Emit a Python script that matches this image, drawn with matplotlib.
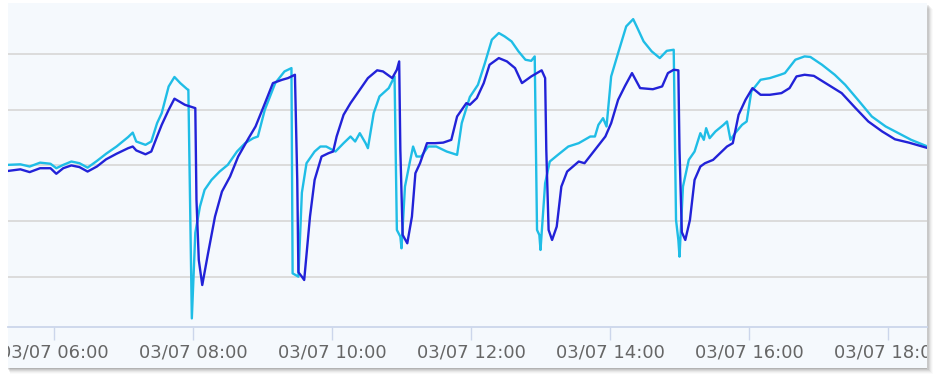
import matplotlib
matplotlib.use("Agg")
import matplotlib.pyplot as plt
from matplotlib.patches import Rectangle

# time in minutes after midnight (03/07), values in arbitrary units
cyan_t = [320, 331, 339, 348, 357, 362, 368, 375, 382, 389, 397, 405, 414, 424, 428, 431, 439, 444,
          449, 453, 459, 464, 469, 475, 476, 479, 482, 486, 490, 496, 503, 510, 518, 525, 532, 536,
          542, 551, 559, 565, 566, 571, 574, 578, 585, 590, 595, 603, 610, 616, 620, 624, 629, 631,
          636, 641, 649, 654, 656, 659, 660, 663, 667, 670, 673, 677, 683, 690, 699, 708, 712, 719,
          726, 732, 738, 744, 749, 755, 761, 767, 772, 775, 777, 779, 780, 784, 788, 795, 804, 813,
          823, 827, 830, 834, 837, 841, 847, 854, 860, 863, 869, 876, 883, 889, 895, 897, 899, 900,
          903, 908, 913, 918, 921, 923, 926, 931, 938, 941, 944, 948, 954, 958, 962, 970, 978, 987,
          991, 1000, 1008, 1013, 1023, 1034, 1043, 1054, 1066, 1078, 1089, 1100, 1113]
cyan_v = [30.1, 30.2, 29.8, 30.5, 30.3, 29.5, 30.1, 30.7, 30.4, 29.6, 30.8, 32.1, 33.4, 35.1, 35.9, 34.3, 33.7, 34.3,
          37.6, 39.4, 44.2, 45.9, 44.8, 43.7, 43.6, 2.5, 17.9, 22.6, 25.6, 27.4, 28.9, 30.1, 32.5, 34.0, 34.9, 35.2,
          40.0, 44.8, 46.9, 47.5, 10.6, 10.0, 25.1, 30.4, 32.5, 33.4, 33.4, 32.5, 34.0, 35.2, 34.3, 35.8, 34.0, 33.1,
          39.4, 42.4, 43.9, 46.0, 18.4, 17.2, 15.1, 26.2, 30.4, 33.4, 31.6, 31.6, 33.4, 33.4, 32.5, 31.9, 37.6, 42.3,
          44.5, 48.4, 52.6, 53.8, 53.2, 52.3, 50.5, 49.0, 48.8, 49.6, 18.4, 17.5, 14.8, 26.8, 30.7, 31.9, 33.4, 34.0,
          35.2, 35.2, 37.3, 38.5, 37.0, 46.0, 50.2, 55.0, 56.3, 55.0, 52.3, 50.5, 49.3, 50.6, 50.8, 20.2, 16.6, 13.6,
          26.2, 31.0, 32.5, 35.8, 34.6, 36.7, 34.9, 36.1, 37.3, 37.9, 34.6, 35.8, 37.3, 37.9, 43.3, 45.4, 45.7, 46.3,
          46.6, 49.0, 49.6, 49.5, 48.1, 46.3, 44.5, 41.8, 38.8, 37.0, 35.8, 34.6, 33.5]

blue_t = [320, 331, 339, 348, 357, 362, 368, 375, 382, 389, 397, 405, 414, 424, 428, 431, 439, 444,
          449, 453, 459, 464, 473, 482, 483, 485, 488, 493, 499, 505, 512, 519, 528, 534, 541, 549,
          557, 562, 568, 570, 571, 574, 576, 581, 585, 591, 597, 601, 604, 610, 616, 624, 631, 639,
          644, 652, 656, 658, 659, 661, 665, 669, 672, 676, 682, 689, 696, 703, 708, 713, 716, 719,
          725, 731, 736, 744, 751, 758, 764, 772, 781, 784, 785, 787, 790, 794, 798, 803, 813, 818,
          827, 836, 841, 847, 853, 859, 866, 877, 885, 890, 895, 899, 900, 902, 905, 909, 913, 918,
          922, 929, 935, 941, 946, 951, 957, 963, 970, 978, 988, 995, 1001, 1008, 1016, 1026, 1040,
          1052, 1063, 1075, 1086, 1098, 1113]
blue_v = [29.0, 29.3, 28.8, 29.5, 29.5, 28.5, 29.5, 30.0, 29.7, 28.9, 29.8, 31.1, 32.1, 33.1, 33.4, 32.7, 32.0, 32.5,
          35.2, 37.3, 40.0, 42.0, 40.9, 40.3, 23.8, 13.0, 8.5, 14.2, 20.8, 25.3, 28.0, 31.6, 34.9, 37.0, 40.6, 44.8,
          45.4, 45.7, 46.3, 27.4, 10.8, 10.0, 9.4, 20.8, 27.4, 31.6, 32.2, 32.5, 35.2, 39.1, 41.2, 43.6, 45.7, 47.1,
          46.9, 45.7, 47.2, 48.7, 32.8, 17.5, 16.0, 20.8, 28.6, 30.4, 34.0, 34.0, 34.1, 34.6, 38.8, 40.3, 41.2, 40.9,
          42.1, 44.8, 48.1, 49.3, 48.7, 47.5, 44.8, 46.0, 47.1, 45.7, 32.8, 18.4, 16.6, 19.0, 26.2, 28.9, 30.7, 30.4,
          32.8, 35.2, 37.6, 41.8, 44.3, 46.6, 43.9, 43.7, 44.2, 46.6, 47.2, 47.1, 32.8, 18.0, 16.6, 20.2, 27.4, 29.8,
          30.4, 31.0, 32.2, 33.4, 34.0, 39.1, 41.8, 43.9, 42.7, 42.7, 43.0, 43.9, 46.0, 46.3, 46.1, 44.8, 43.0,
          40.3, 37.9, 36.1, 34.7, 34.1, 33.2]

tick_minutes = [360, 480, 600, 720, 840, 960, 1080]
tick_labels = ["03/07 06:00", "03/07 08:00", "03/07 10:00", "03/07 12:00",
               "03/07 14:00", "03/07 16:00", "03/07 18:00"]
grid_values = [10, 20, 30, 40, 50]

W, H = 936, 384
fig = plt.figure(figsize=(W / 100, H / 100), dpi=100)
fig.patch.set_facecolor("white")

# panel geometry (pixels)
px0, px1, py_top, py_bot = 8, 926.7, 3, 368

# shadow
for i, a in enumerate([0.10, 0.08, 0.06, 0.045, 0.03, 0.02]):
    off = i + 1
    sh = Rectangle(((px0 - 0.5 + off * 0.4) / W, (H - py_bot - off) / H),
                   (px1 - px0 + off * 0.8) / W, (py_bot - py_top) / H,
                   transform=fig.transFigure, facecolor="black", alpha=a,
                   edgecolor="none", zorder=-3)
    fig.patches.append(sh)

panel = Rectangle((px0 / W, (H - py_bot) / H), (px1 - px0) / W, (py_bot - py_top) / H,
                  transform=fig.transFigure, facecolor="#f5f9fd", edgecolor="none", zorder=-2)
fig.patches.append(panel)

ax_bottom_px = 327.3
ax = fig.add_axes([px0 / W, (H - ax_bottom_px) / H, (px1 - px0) / W, (ax_bottom_px - py_top) / H])
ax.set_zorder(1)
ax.set_facecolor("none")
ax.set_xlim(320.3, 1113.4)
ax.set_ylim(0.9, 59.2)

for g in grid_values:
    ax.axhline(g, color="#dcdcdc", lw=1.4, zorder=1)

ax.plot(cyan_t, cyan_v, color="#1fbde6", lw=1.7, zorder=3, solid_joinstyle="round")
ax.plot(blue_t, blue_v, color="#2222d8", lw=1.7, zorder=4, solid_joinstyle="round")

for s in ["top", "right", "left"]:
    ax.spines[s].set_visible(False)
ax.spines["bottom"].set_color("#ccd6eb")
ax.spines["bottom"].set_linewidth(1.3)
ax.set_yticks([])
ax.set_xticks(tick_minutes)
ax.set_xticklabels(tick_labels, fontsize=13, color="#666666", family="DejaVu Sans")
ax.tick_params(axis="x", length=9, width=1, color="#ccd6eb", pad=2.5)

for t in ax.xaxis.get_major_ticks():
    t.label1.set_clip_path(panel)

fig.savefig("out.png", dpi=100, facecolor="white")
